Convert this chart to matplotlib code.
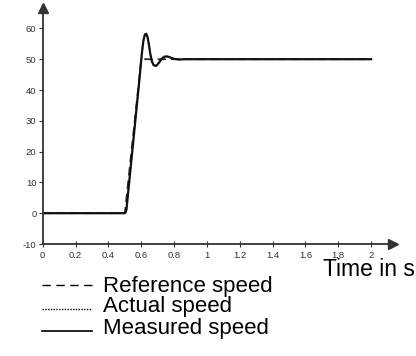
import matplotlib
matplotlib.use("Agg")
import matplotlib.pyplot as plt
from matplotlib.lines import Line2D

plt.rcParams["font.family"] = ["Liberation Sans", "DejaVu Sans"]
plt.rcParams["axes.unicode_minus"] = False

# Reference speed set-point
ref_t = [0.0, 0.5, 0.6, 2.0]
ref_v = [0.0, 0.0, 50.0, 50.0]

# Measured speed response
meas_t = [0.0, 0.5, 0.505, 0.51, 0.55, 0.59, 0.603, 0.613, 0.622, 0.63, 0.638,
          0.646, 0.655, 0.665, 0.675, 0.688, 0.70, 0.715, 0.73, 0.745, 0.76,
          0.78, 0.8, 0.83, 0.87, 0.95, 2.0]
meas_v = [0.0, 0.0, 0.3, 1.2, 22.5, 44.0, 51.5, 56.0, 58.0, 58.3, 57.3,
          55.0, 51.8, 49.3, 48.1, 47.8, 48.3, 49.4, 50.4, 50.9, 50.9,
          50.5, 50.1, 49.9, 50.0, 50.0, 50.0]

# Actual speed response
act_t = [0.0, 0.5, 0.505, 0.51, 0.55, 0.59, 0.603, 0.613, 0.622, 0.63, 0.638,
         0.646, 0.655, 0.665, 0.675, 0.688, 0.70, 0.715, 0.73, 0.745, 0.76,
         0.78, 0.8, 0.83, 0.87, 0.95, 2.0]
act_v = [0.0, 0.0, 0.3, 1.2, 22.5, 44.0, 51.4, 55.8, 57.8, 58.1, 57.1,
         54.8, 51.7, 49.3, 48.2, 47.9, 48.4, 49.4, 50.4, 50.8, 50.8,
         50.5, 50.1, 49.9, 50.0, 50.0, 50.0]

x_ticks = [0, 0.2, 0.4, 0.6, 0.8, 1, 1.2, 1.4, 1.6, 1.8, 2]
x_tick_labels = ["0", "0.2", "0.4", "0.6", "0.8", "1", "1.2", "1.4", "1.6", "1.8", "2"]
y_ticks = [-10, 0, 10, 20, 30, 40, 50, 60]

legend_labels = ["Reference speed", "Actual speed", "Measured speed"]

W, H = 416, 356
fig = plt.figure(figsize=(W / 100, H / 100), dpi=100)
ax = fig.add_axes([42.7 / W, 1 - 244 / H, (392.5 - 42.7) / W, (244 - 8.4) / H])

axis_col = "#333333"
ax.plot(ref_t, ref_v, color="#222222", lw=1.2, ls=(0, (5, 3)))
ax.plot(act_t, act_v, color="#222222", lw=1.0, ls=(0, (1, 1)))
ax.plot(meas_t, meas_v, color="#111111", lw=1.6, solid_joinstyle="round")

ax.set_xlim(0, 2.13)
ax.set_ylim(-10, 66.5)
for s in ("top", "right"):
    ax.spines[s].set_visible(False)
for s in ("left", "bottom"):
    ax.spines[s].set_color(axis_col)
    ax.spines[s].set_linewidth(1.3)

ax.set_xticks(x_ticks)
ax.set_xticklabels(x_tick_labels)
ax.set_yticks(y_ticks)
ax.tick_params(axis="x", direction="inout", length=4, width=0.8, colors=axis_col,
               labelsize=6.8, pad=3, labelcolor="#333333")
ax.tick_params(axis="y", direction="out", length=3, width=0.8, colors=axis_col,
               labelsize=6.8, pad=1.5, labelcolor="#333333")

# Arrow heads on the axes
ax.plot(1, 0, marker=">", color=axis_col, markersize=7,
        transform=ax.transAxes, clip_on=False)
ax.plot(0, 1, marker="^", color=axis_col, markersize=7,
        transform=ax.transAxes, clip_on=False)

fig.text(323 / W, 1 - 276.5 / H, "Time in s", fontsize=16.5, ha="left",
         va="baseline", color="black")

# Legend drawn as figure-level line samples and captions
styles = [dict(ls=(0, (6, 4)), lw=1.0), dict(ls=(0, (1, 1)), lw=1.0), dict(ls="-", lw=1.2)]
line_y = [285, 309, 330.7]
text_base = [291.7, 312, 334]
for lab, st, ly, tb in zip(legend_labels, styles, line_y, text_base):
    fig.add_artist(Line2D([42 / W, 92 / W], [1 - ly / H, 1 - ly / H],
                          transform=fig.transFigure, color="black", **st))
    fig.text(103 / W, 1 - tb / H, lab, fontsize=16, ha="left", va="baseline",
             color="black")

fig.savefig("out.png", dpi=100)
